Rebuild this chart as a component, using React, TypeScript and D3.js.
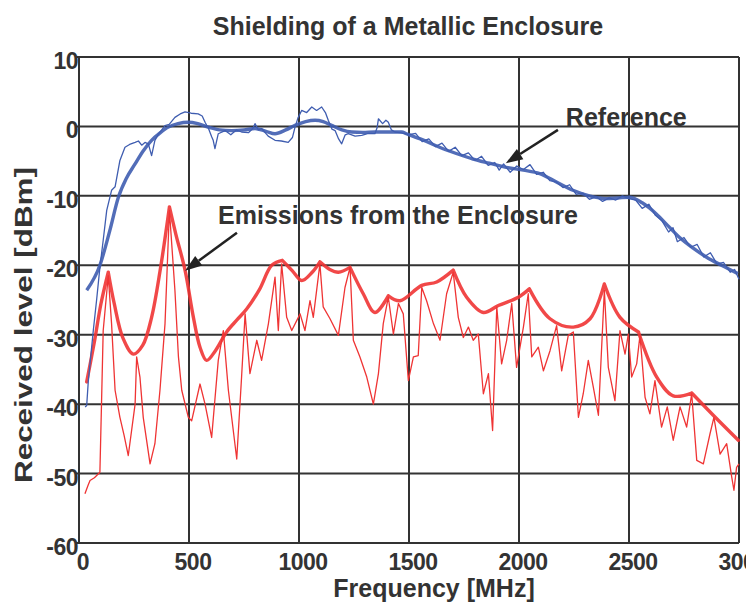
import React from "react";
import * as d3 from "d3";

const W = 746;
const H = 611;

const titleText = "Shielding of a Metallic Enclosure";
const xLabel = "Frequency [MHz]";
const yLabel = "Received level [dBm]";
const xTicks = [0, 500, 1000, 1500, 2000, 2500, 3000];
const yTicks = [10, 0, -10, -20, -30, -40, -50, -60];

// Reference (blue) smooth curve: [MHz, dBm]
const refSmooth: [number, number][] = [
  [35, -23.6], [95, -20], [140, -15], [179, -10.2], [215, -7.5], [255, -5.4], [290, -3.6], [330, -2], [370, -0.9], [406, -0.1],
  [450, 0.4], [497, 0.6], [540, 0.4], [588, -0.1], [640, -0.5], [694, -0.6], [750, -0.5], [800, -0.3], [850, -0.7],
  [891, -1.05], [940, -0.5], [982, 0.15], [1030, 0.7], [1073, 0.9], [1110, 0.7], [1148, 0.15], [1195, -0.5],
  [1240, -0.8], [1290, -0.85], [1345, -0.8], [1400, -0.8], [1467, -0.8], [1488, -1.05], [1560, -1.9], [1639, -3],
  [1715, -3.9], [1791, -4.7], [1865, -5.3], [1942, -5.9], [2020, -6.3], [2094, -6.8], [2170, -8.0], [2245, -9.2],
  [2320, -10.0], [2397, -10.4], [2450, -10.3], [2503, -10.2], [2560, -11.0], [2624, -12.6], [2680, -14.4],
  [2730, -16], [2790, -17.5], [2851, -18.8], [2920, -20.0], [2995, -21.2],
];

// Reference (blue) raw measured trace
const refRaw: [number, number][] = [
  [28, -40.4], [35, -40.2], [42, -36.8], [50, -34.2], [65, -29.4], [80, -25], [95, -20.3], [110, -16.4], [126, -12.1],
  [148, -9.2], [164, -8.7], [186, -4.9], [209, -3], [230, -2.6], [255, -2.3], [270, -2.1], [285, -2.7], [300, -2.3],
  [315, -2.5], [330, -4.2], [345, -2.0], [361, -1.1], [391, 0.1], [410, 0.3], [436, 1.3], [460, 1.8], [482, 2.1],
  [510, 1.9], [542, 1.8], [560, 1.5], [573, 0.6], [590, -0.4], [603, -1.5], [610, -2.0], [618, -3.2], [633, -1.05],
  [664, -0.6], [690, -1.2], [715, -0.5], [739, -0.8], [770, -0.9], [790, -0.3], [800, 0.4], [815, -0.5], [830, -0.3],
  [860, -1.4], [891, -2], [920, -2.1], [951, -2.3], [970, -1.6], [982, -0.1], [995, 1.2], [1012, 2.3], [1035, 2.0],
  [1058, 2.8], [1080, 2.3], [1103, 2.8], [1120, 2.0], [1133, 0.9], [1150, -0.4], [1164, -0.6], [1180, -1.8],
  [1194, -2.5], [1210, -1.2], [1224, -1.05], [1255, -1.4], [1285, -1.3], [1315, -1.0], [1345, -1.05], [1355, -0.2],
  [1361, 1.1], [1380, 0.4], [1395, 0.9], [1406, 0.6], [1420, -0.5], [1436, -0.8], [1460, -0.9], [1482, -1.05],
  [1500, -1.2], [1530, -1.0], [1560, -2.2], [1590, -1.8], [1620, -2.9], [1650, -2.4], [1680, -3.6], [1710, -3.0],
  [1740, -4.2], [1770, -3.8], [1800, -4.9], [1830, -4.3], [1860, -5.6], [1890, -5.2], [1910, -6.3], [1930, -5.4],
  [1960, -6.6], [1990, -5.7], [2020, -6.2], [2050, -5.5], [2080, -6.9], [2110, -6.6], [2140, -7.8], [2170, -8.0],
  [2200, -8.8], [2230, -8.4], [2260, -9.8], [2290, -9.6], [2320, -10.5], [2350, -10.1], [2380, -10.8], [2410, -10.3],
  [2440, -10.6], [2470, -10.0], [2500, -10.4], [2530, -10.6], [2560, -11.8], [2590, -11.2], [2620, -12.8],
  [2650, -13.6], [2680, -15.2], [2700, -14.6], [2720, -16.6], [2750, -16.0], [2780, -17.4], [2810, -17.0],
  [2840, -18.8], [2870, -18.2], [2900, -19.8], [2930, -19.6], [2960, -21.0], [2980, -20.6], [3000, -22.0],
];

// Emissions (red) envelope
const emiEnvelope: [number, number][] = [
  [35, -36.8], [70, -31], [100, -25.5], [133, -21], [160, -25.5], [200, -30.5], [247, -32.8], [290, -31.5],
  [330, -27.5], [370, -20.5], [411, -11.6], [440, -15.5], [482, -20.7], [520, -27.5], [550, -31.8], [580, -33.7],
  [620, -32.3], [671, -29.6], [720, -27.8], [762, -26.3], [820, -23.5], [876, -20], [924, -19.3], [970, -20.8],
  [1012, -22.2], [1060, -21], [1095, -19.5], [1140, -20.6], [1179, -21], [1232, -20.3], [1292, -24.1],
  [1345, -26.8], [1406, -24.4], [1459, -25.1], [1558, -22.9], [1626, -22.4], [1701, -20.7], [1762, -24.6],
  [1838, -26.8], [1906, -25.8], [1997, -24.6], [2047, -23.4], [2141, -27.7], [2247, -28.9], [2323, -27.7],
  [2388, -22.7], [2459, -27.5], [2543, -29.6], [2626, -36.1], [2701, -38.8], [2785, -38.4], [2883, -41.6],
  [2997, -45.2],
];
// frequencies where the envelope has a sharp cusp
const envelopeCusps = [133, 411, 924, 1095, 1232, 1406, 1701, 2047, 2388, 2543, 2785];

// Emissions (red) raw measured trace
const emiRaw: [number, number][] = [
  [27, -52.9], [40, -51.8], [50, -51], [70, -50.6], [95, -49.8], [103, -39], [110, -29.4], [133, -21.5], [148, -28.4], [164, -38],
  [186, -41.9], [205, -44.5], [224, -47.4], [255, -40], [262, -33.2], [277, -36.1], [292, -41.9], [323, -48.6], [345, -45.7],
  [368, -38], [391, -28.4], [411, -12.1], [436, -23.6], [452, -33.2], [467, -38], [497, -41.9], [512, -42.4],
  [550, -37.1], [573, -40], [603, -44.8], [633, -33.7], [656, -29.4], [679, -38], [717, -47.9], [739, -36.1],
  [755, -27], [777, -35.6], [808, -30.8], [830, -33.7], [861, -28.4], [891, -21.7], [906, -29.4], [921, -19.8],
  [944, -27.5], [967, -29.4], [1005, -27], [1027, -29.4], [1050, -25.1], [1065, -27.5], [1095, -19.8],
  [1110, -26], [1141, -27.7], [1179, -30.1], [1209, -23.2], [1232, -20.3], [1247, -30.8], [1277, -33.2],
  [1308, -36.1], [1338, -40], [1361, -35.6], [1383, -28.4], [1406, -24.6], [1429, -29.9], [1452, -25.5],
  [1474, -27], [1497, -36.6], [1520, -33.2], [1542, -33], [1558, -23.2], [1580, -25.1], [1611, -28.4],
  [1641, -30.8], [1671, -24.1], [1701, -21], [1724, -27.5], [1747, -30.4], [1770, -28.9], [1792, -30.8],
  [1815, -29.9], [1838, -38.5], [1861, -35.6], [1880, -43.8], [1899, -26], [1921, -34.2], [1944, -30.8],
  [1967, -25.5], [1989, -34.7], [2020, -28.9], [2042, -24.1], [2058, -33.2], [2088, -31.8], [2111, -35.2],
  [2141, -32.3], [2171, -28.7], [2194, -35.2], [2224, -30.1], [2247, -29.6], [2270, -41.9], [2292, -38.5],
  [2315, -33.7], [2338, -37.6], [2361, -41.6], [2388, -23.6], [2406, -34.7], [2436, -39.5], [2459, -29.4],
  [2482, -32.8], [2497, -29.9], [2512, -36.1], [2535, -34.2], [2550, -30.1], [2573, -39], [2595, -41.4],
  [2618, -36.6], [2648, -43.3], [2674, -40.4], [2701, -45.2], [2732, -40.4], [2762, -43.3], [2785, -38.5],
  [2808, -48.1], [2838, -48.6], [2868, -44.3], [2886, -41.9], [2914, -47.2], [2944, -45.7], [2967, -50.5],
  [2977, -52.4], [2989, -49.1], [3000, -48.6],
];

// Annotations
const annRef = { text: "Reference", tx: 2213, ty: 0.1, x1: 2177, y1: -0.5, x2: 1940, y2: -5.3 };
const annEmi = { text: "Emissions from the Enclosure", tx: 632, ty: -14, x1: 718, y1: -15.3, x2: 482, y2: -20.8 };

const FONT = "'Liberation Sans', Arial, Helvetica, sans-serif";
const TXT = "#333333";
const BLUE = "#3f5db0";
const RED = "#ef3434";

function Arrow({ x1, y1, x2, y2 }: { x1: number; y1: number; x2: number; y2: number }) {
  const ang = Math.atan2(y2 - y1, x2 - x1);
  const len = 17;
  const half = 6;
  const bx = x2 - len * Math.cos(ang);
  const by = y2 - len * Math.sin(ang);
  const px = -Math.sin(ang) * half;
  const py = Math.cos(ang) * half;
  return (
    <g>
      <line x1={x1} y1={y1} x2={bx} y2={by} stroke="#222" strokeWidth={2.5} />
      <polygon points={`${x2},${y2} ${bx + px},${by + py} ${bx - px},${by - py}`} fill="#222" />
    </g>
  );
}

function splitAt(data: [number, number][], cusps: number[]): [number, number][][] {
  const segs: [number, number][][] = [];
  let cur: [number, number][] = [];
  data.forEach((d) => {
    cur.push(d);
    if (cusps.includes(d[0])) {
      segs.push(cur);
      cur = [d];
    }
  });
  if (cur.length > 1) segs.push(cur);
  return segs;
}

export default function App() {
  const x = d3.scaleLinear().domain([0, 3000]).range([79, 739]);
  const y = d3.scaleLinear().domain([-60, 10]).range([543, 57]);

  const smooth = d3.line<[number, number]>().x((d) => x(d[0])).y((d) => y(d[1])).curve(d3.curveMonotoneX);
  const arc = d3.line<[number, number]>().x((d) => x(d[0])).y((d) => y(d[1])).curve(d3.curveCatmullRom.alpha(0.5));
  const raw = d3.line<[number, number]>().x((d) => x(d[0])).y((d) => y(d[1]));

  const envSegs = splitAt(emiEnvelope, envelopeCusps);
  const envPath = envSegs.map((s) => arc(s) || "").join(" ");

  return (
    <svg
      width={W}
      height={H}
      style={{ position: "absolute", left: 0, top: 0, background: "#fff" }}
      fontFamily={FONT}
    >
      <rect x={0} y={0} width={W} height={H} fill="#fff" />
      {xTicks.map((t) => (
        <line key={"gx" + t} x1={x(t)} x2={x(t)} y1={y(10)} y2={y(-60)} stroke="#333" strokeWidth={2} />
      ))}
      {yTicks.map((t) => (
        <line key={"gy" + t} x1={x(0) - 3} x2={x(3000)} y1={y(t)} y2={y(t)} stroke="#333" strokeWidth={2} />
      ))}

      <path d={raw(emiRaw) || ""} fill="none" stroke={RED} strokeWidth={1.3} strokeLinejoin="round" />
      <path d={envPath} fill="none" stroke={RED} strokeWidth={3.4} strokeOpacity={0.9} strokeLinejoin="round" strokeLinecap="round" />
      <path d={raw(refRaw) || ""} fill="none" stroke={BLUE} strokeWidth={1.3} strokeLinejoin="round" />
      <path d={smooth(refSmooth) || ""} fill="none" stroke={BLUE} strokeWidth={3.4} strokeOpacity={0.9} strokeLinejoin="round" />

      {yTicks.map((t) => (
        <text key={"ly" + t} x={78} y={y(t) + 4} textAnchor="end" dominantBaseline="central" fontSize={23} fontWeight="bold" fill={TXT} letterSpacing={-0.5}>
          {t}
        </text>
      ))}
      {xTicks.map((t) => (
        <text key={"lx" + t} x={x(t) + 4} y={570} textAnchor="middle" fontSize={23} fontWeight="bold" fill={TXT} letterSpacing={-0.5}>
          {t}
        </text>
      ))}

      <text x={408} y={35} textAnchor="middle" fontSize={25} fontWeight="bold" fill={TXT}>
        {titleText}
      </text>
      <text x={434} y={597} textAnchor="middle" fontSize={25} fontWeight="bold" fill={TXT}>
        {xLabel}
      </text>
      <text
        transform={`translate(32,325) rotate(-90)`}
        textAnchor="middle"
        fontSize={23}
        fontWeight="bold"
        fill={TXT}
        textLength={316}
        lengthAdjust="spacingAndGlyphs"
      >
        {yLabel}
      </text>

      <text x={x(annRef.tx)} y={y(annRef.ty)} fontSize={25} fontWeight="bold" fill={TXT}>
        {annRef.text}
      </text>
      <Arrow x1={x(annRef.x1)} y1={y(annRef.y1)} x2={x(annRef.x2)} y2={y(annRef.y2)} />
      <text x={x(annEmi.tx)} y={y(annEmi.ty)} fontSize={25} fontWeight="bold" fill={TXT}>
        {annEmi.text}
      </text>
      <Arrow x1={x(annEmi.x1)} y1={y(annEmi.y1)} x2={x(annEmi.x2)} y2={y(annEmi.y2)} />
    </svg>
  );
}
